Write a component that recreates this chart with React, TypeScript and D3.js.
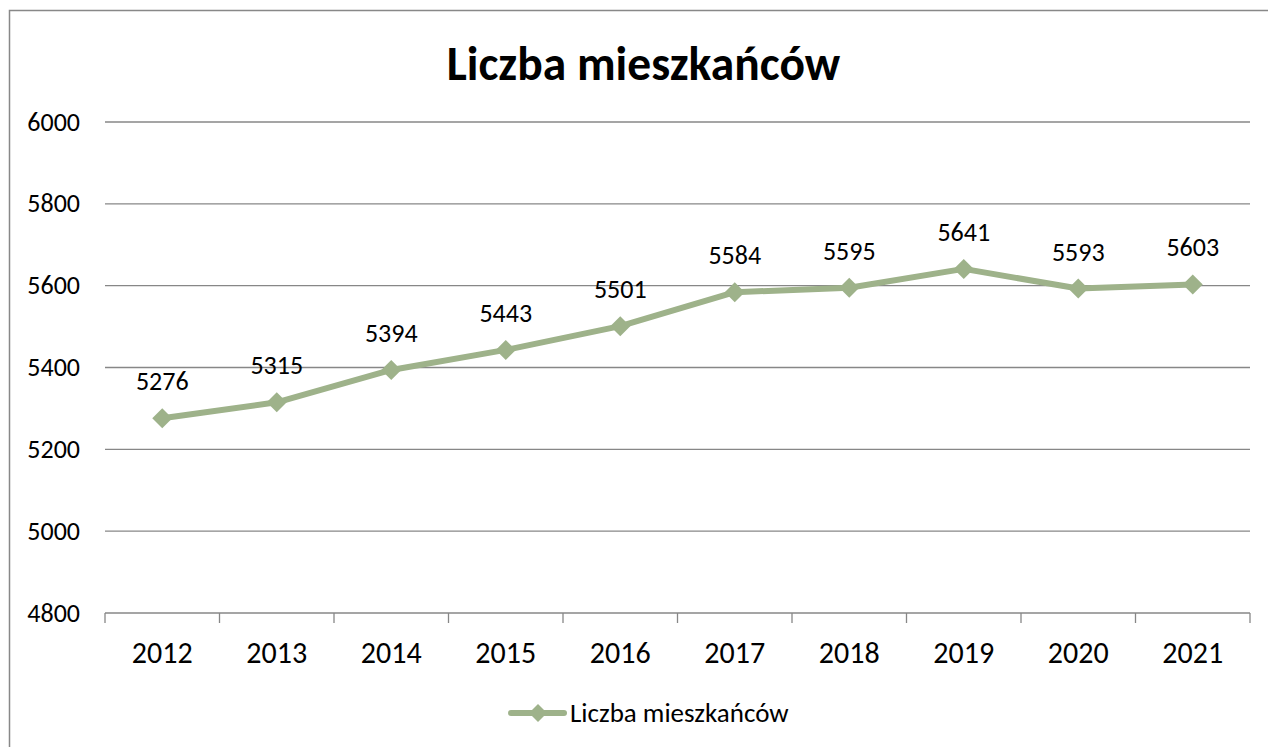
import React from "react";
import * as d3 from "d3";

const categories = ["2012", "2013", "2014", "2015", "2016", "2017", "2018", "2019", "2020", "2021"];
const values = [5276, 5315, 5394, 5443, 5501, 5584, 5595, 5641, 5593, 5603];
const yTicks = [4800, 5000, 5200, 5400, 5600, 5800, 6000];
const title = "Liczba mieszkańców";
const seriesName = "Liczba mieszkańców";

const W = 1268;
const H = 747;
const FONT = "Carlito, Lato, 'Liberation Sans', sans-serif";
const GREEN = "#9EB28A";
const GRID = "#878787";

export default function App() {
  const left = 105, right = 1250, top = 122, bottom = 613;
  const x = d3.scaleBand<string>().domain(categories).range([left, right]);
  const y = d3.scaleLinear().domain([4800, 6000]).range([bottom, top]);
  const line = d3
    .line<number>()
    .x((_, i) => (x(categories[i]) as number) + x.bandwidth() / 2)
    .y((d) => y(d));
  const diamond = (cx: number, cy: number, r: number) =>
    `M${cx},${cy - r}L${cx + r},${cy}L${cx},${cy + r}L${cx - r},${cy}Z`;

  return (
    <svg
      width={W}
      height={H}
      style={{ position: "absolute", left: 0, top: 0, fontFamily: FONT }}
    >
      <rect x={0} y={0} width={W} height={H} fill="#fff" />
      <rect x={9.5} y={10.5} width={W + 10} height={H + 10} fill="none" stroke="#888" strokeWidth={1.5} />
      <text x={643.5} y={80} textAnchor="middle" fontSize={47.5} fontWeight="bold" fill="#000">
        {title}
      </text>
      {yTicks.map((t) => (
        <g key={t}>
          <line x1={left} x2={right} y1={y(t)} y2={y(t)} stroke={GRID} strokeWidth={1.3} />
          <text x={80} y={y(t) + 8.5} textAnchor="end" fontSize={26} fill="#000">
            {t}
          </text>
        </g>
      ))}
      {categories.map((c) => (
        <line
          key={"t" + c}
          x1={x(c) as number}
          x2={x(c) as number}
          y1={bottom}
          y2={bottom + 10}
          stroke={GRID}
          strokeWidth={1.3}
        />
      ))}
      <line x1={right} x2={right} y1={bottom} y2={bottom + 10} stroke={GRID} strokeWidth={1.3} />
      {categories.map((c) => (
        <text
          key={"l" + c}
          x={(x(c) as number) + x.bandwidth() / 2}
          y={663}
          textAnchor="middle"
          fontSize={30}
          fill="#000"
        >
          {c}
        </text>
      ))}
      <path d={line(values) || ""} fill="none" stroke={GREEN} strokeWidth={6} strokeLinejoin="round" strokeLinecap="round" />
      {values.map((v, i) => {
        const cx = (x(categories[i]) as number) + x.bandwidth() / 2;
        const cy = y(v);
        return (
          <g key={"p" + i}>
            <path d={diamond(cx, cy, 10)} fill={GREEN} />
            <text x={cx} y={cy - 28} textAnchor="middle" fontSize={26} fill="#000">
              {v}
            </text>
          </g>
        );
      })}
      <line x1={511} x2={564} y1={713} y2={713} stroke={GREEN} strokeWidth={6} strokeLinecap="round" />
      <path d={diamond(538, 713, 9)} fill={GREEN} />
      <text x={570} y={722} fontSize={27} fill="#000">
        {seriesName}
      </text>
    </svg>
  );
}
